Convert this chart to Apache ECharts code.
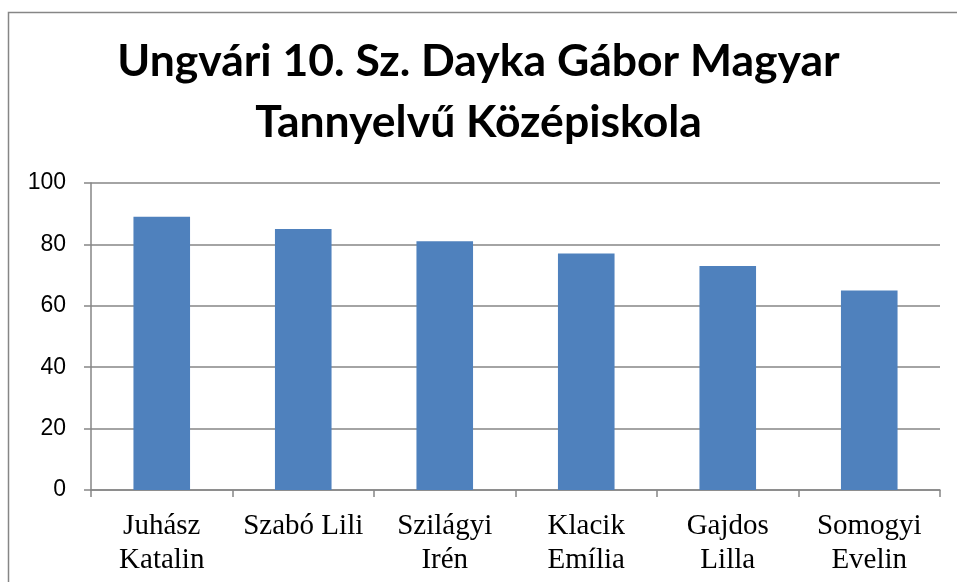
<!DOCTYPE html>
<html>
<head>
<meta charset="utf-8">
<script src="https://cdn.jsdelivr.net/npm/echarts@6/dist/echarts.min.js"></script>
<style>
  html, body { margin: 0; padding: 0; background: #fff; }
  #chart { width: 957px; height: 582px; }
</style>
</head>
<body>
<div id="chart"></div>
<script>
    // adatok
    var categories = ['Juhász\nKatalin', 'Szabó Lili', 'Szilágyi\nIrén', 'Klacik\nEmília', 'Gajdos\nLilla', 'Somogyi\nEvelin'];
    var values = [89, 85, 81, 77, 73, 65];
    var titleText = 'Ungvári 10. Sz. Dayka Gábor Magyar\nTannyelvű Középiskola';

    var gridColor = '#868686';
    var barColor = '#4F81BD';

    var myChart = echarts.init(document.getElementById('chart'));

    option = {
        animation: false,
        title: {
            text: titleText,
            left: 'center',
            top: 26,
            textStyle: {
                fontFamily: 'Lato',
                fontWeight: 'bold',
                fontSize: 44.5,
                lineHeight: 61,
                color: '#000'
            }
        },
        graphic: [
            {
                type: 'rect',
                shape: {x: 8.5, y: 12.5, width: 980, height: 620},
                style: {fill: 'none', stroke: gridColor, lineWidth: 1.5},
                silent: true
            }
        ],
        grid: {
            left: 91,
            right: 17,
            top: 183,
            bottom: 92
        },
        xAxis: {
            type: 'category',
            data: categories,
            boundaryGap: true,
            axisLine: {lineStyle: {color: gridColor, width: 1.5}},
            axisTick: {show: true, length: 7, lineStyle: {color: gridColor, width: 1.5}},
            axisLabel: {
                interval: 0,
                margin: 19,
                fontFamily: 'Liberation Serif',
                fontSize: 29,
                lineHeight: 34,
                color: '#000'
            }
        },
        yAxis: {
            type: 'value',
            min: 0,
            max: 100,
            interval: 20,
            axisLine: {show: true, lineStyle: {color: gridColor, width: 1.5}},
            axisTick: {show: true, length: 7, lineStyle: {color: gridColor, width: 1.5}},
            splitLine: {lineStyle: {color: gridColor, width: 1.5}},
            axisLabel: {
                margin: 25,
                fontFamily: 'Liberation Sans',
                fontSize: 23,
                color: '#000'
            }
        },
        series: [
            {
                type: 'bar',
                data: values,
                barWidth: '40%',
                itemStyle: {color: barColor}
            }
        ]
    };

    myChart.setOption(option);
</script>
</body>
</html>
